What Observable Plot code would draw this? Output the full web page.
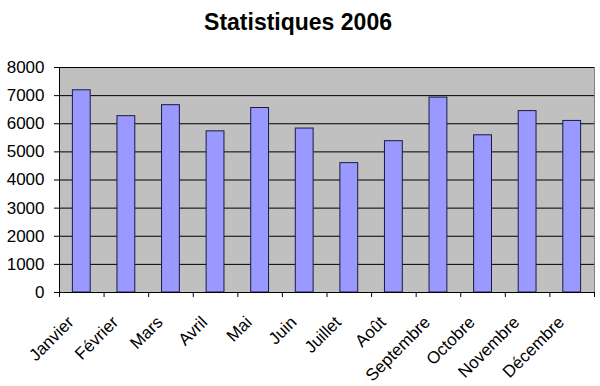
<!DOCTYPE html>
<html>
<head>
<meta charset="utf-8">
<script src="https://cdn.jsdelivr.net/npm/d3@7"></script>
<script src="https://cdn.jsdelivr.net/npm/@observablehq/plot@0.6"></script>
<style>
  html, body { margin: 0; padding: 0; background: #fff; }
</style>
</head>
<body>
<div id="chart"></div>
<script>
const title = "Statistiques 2006";
const months = ["Janvier", "Février", "Mars", "Avril", "Mai", "Juin", "Juillet", "Août", "Septembre", "Octobre", "Novembre", "Décembre"];
const values = [7190, 6270, 6660, 5730, 6560, 5830, 4600, 5380, 6930, 5590, 6450, 6100];
const yTicks = [0, 1000, 2000, 3000, 4000, 5000, 6000, 7000, 8000];

const data = months.map((m, i) => ({ month: m, i, value: values[i] }));

const chart = Plot.plot({
  width: 600,
  height: 386,
  marginLeft: 59,
  marginRight: 6,
  marginTop: 67,
  marginBottom: 94,
  style: { fontFamily: "Arial, 'Liberation Sans', sans-serif", background: "#fff", color: "#000" },
  x: { domain: [0, months.length], axis: null },
  y: { domain: [0, 8000], axis: null },
  marks: [
    Plot.frame({ fill: "#c0c0c0", stroke: "#808080" }),
    Plot.gridY(yTicks.slice(1), { stroke: "#000", strokeOpacity: 1 }),
    Plot.rectY(data, {
      x1: d => d.i + 0.3,
      x2: d => d.i + 0.7,
      y1: 0,
      y2: "value",
      fill: "#9999ff",
      stroke: "#1a1a40",
      strokeWidth: 1
    }),
    Plot.ruleY([0], { stroke: "#000" }),
    Plot.ruleX([0], { stroke: "#000" }),
    Plot.axisY({ ticks: yTicks, tickSize: 5, tickPadding: 10, fontSize: 17, tickFormat: d => String(d), label: null }),
    Plot.axisX({ ticks: d3.range(months.length + 1), tickFormat: () => "", tickSize: 5, label: null }),
    Plot.text(data, {
      x: d => d.i + 0.5,
      text: "month",
      frameAnchor: "bottom",
      dy: 27,
      dx: -11,
      rotate: -45,
      textAnchor: "end",
      lineAnchor: "middle",
      fontSize: 17,
      fill: "#000"
    }),
    Plot.text([title], {
      frameAnchor: "top",
      dy: -38,
      dx: -29,
      lineAnchor: "bottom",
      fontSize: 23,
      fontWeight: "bold",
      fill: "#000"
    })
  ]
});

document.getElementById("chart").appendChild(chart);
</script>
</body>
</html>
